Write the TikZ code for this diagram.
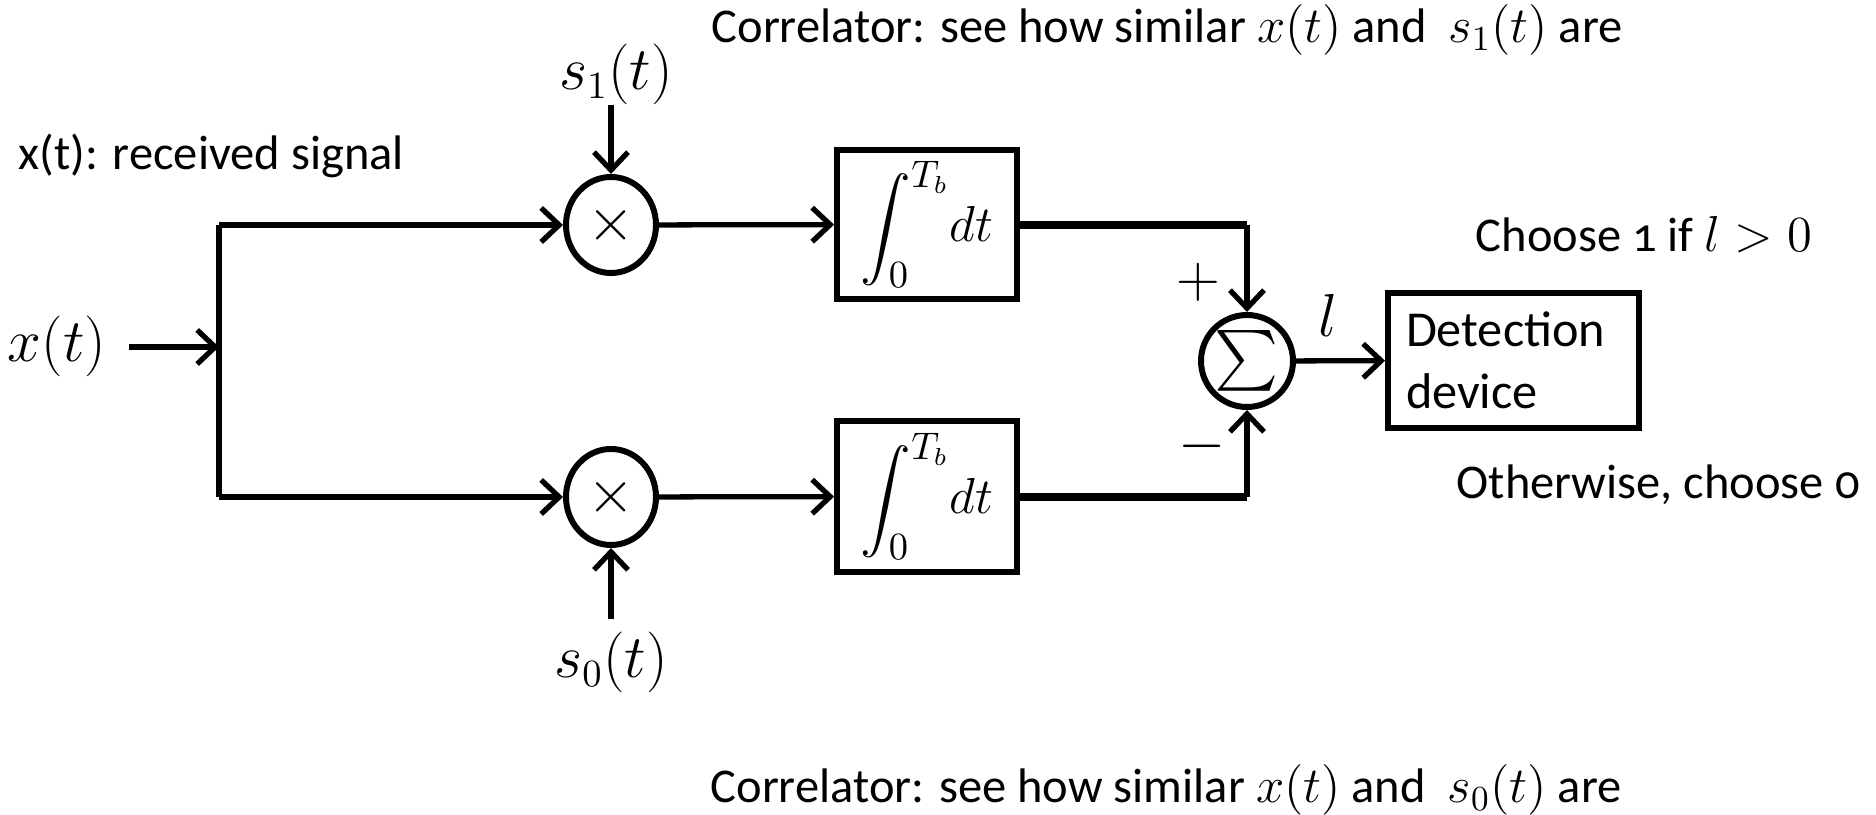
\documentclass[tikz,border=0pt]{standalone}
\usepackage{exscale}
\usepackage{fontspec}
\setmainfont{Carlito}
\usetikzlibrary{arrows.meta,shapes.geometric}
\tikzset{
  wire/.style={line width=1.5pt,-{Straight Barb[length=1.8mm,width=3.4mm,line width=1.5pt]}},
  thickwire/.style={line width=2.4pt},
  mixer/.style={draw,ellipse,line width=1.7pt,minimum width=0.90cm,minimum height=0.96cm,inner sep=0pt},
  adder/.style={draw,circle,line width=1.7pt,minimum size=0.92cm,inner sep=0pt},
  block/.style={draw,rectangle,line width=1.7pt,inner sep=2pt},
  txt/.style={font=\fontsize{13.8}{16}\selectfont,inner sep=0pt},
  mathlbl/.style={font=\fontsize{16}{18}\selectfont}
}
\begin{document}
\begin{tikzpicture}[txt]
\useasboundingbox (0,0) rectangle (18.76,-8.15);
% input and splitting bus
\node[mathlbl] (xin) at (0.57,-3.46) {$x(t)$};
\coordinate (xs) at (1.29,-3.47);
\coordinate (split) at (2.19,-3.47);
\coordinate (bustop) at (2.19,-2.25);
\coordinate (busbot) at (2.19,-4.97);
\node[anchor=west] (rx) at (0.18,-1.56) {x(t): received signal};
% multipliers
\node[mixer,font=\fontsize{17}{18}\selectfont] (mul1) at (6.11,-2.25) {$\times$};
\node[mixer,font=\fontsize{17}{18}\selectfont] (mul0) at (6.11,-4.97) {$\times$};
\node[mathlbl] (s1) at (6.16,-0.74) {$s_1(t)$};
\coordinate (s1a) at (6.11,-1.05);
\node[mathlbl] (s0) at (6.11,-6.62) {$s_0(t)$};
\coordinate (s0a) at (6.11,-6.19);
% integrators
\node[block,minimum width=1.80cm,minimum height=1.49cm,font=\fontsize{15}{18}\selectfont]
  (int1) at (9.27,-2.245) {$\displaystyle\int_0^{T_b}\!dt$};
\node[block,minimum width=1.80cm,minimum height=1.51cm,font=\fontsize{15}{18}\selectfont]
  (int0) at (9.27,-4.965) {$\displaystyle\int_0^{T_b}\!dt$};
% summer and detector
\node[adder,font=\fontsize{16}{18}\selectfont] (sum) at (12.47,-3.61) {$\sum$};
\node[block,minimum width=2.51cm,minimum height=1.35cm,align=left,
  text width=2.15cm,font=\fontsize{14.3}{17.5}\selectfont] (det) at (15.135,-3.605) {Detection\\device};
\node[mathlbl] (plus) at (11.98,-2.82) {$+$};
\node[mathlbl] (minus) at (12.02,-4.46) {$-$};
\node[mathlbl] (ell) at (13.28,-3.15) {$l$};
% decision rule
\node[anchor=west] (rule1) at (14.75,-2.35)
  {Choose {\addfontfeatures{Numbers=OldStyle}1} if $l>0$};
\node[anchor=west] (rule0) at (14.56,-4.85)
  {Otherwise, choose {\addfontfeatures{Numbers=OldStyle}0}};
% captions
\node (cap1) at (11.67,-0.30) {Correlator: see how similar $x(t)$ and\ \ $s_1(t)$ are};
\node (cap0) at (11.66,-7.90) {Correlator: see how similar $x(t)$ and\ \ $s_0(t)$ are};
% connectors
\draw[wire] (xs) -- (split);
\draw[line width=1.9pt] (bustop) -- (busbot);
\draw[wire] (bustop) -- (mul1);
\draw[wire] (busbot) -- (mul0);
\draw[wire] (s1a) -- (mul1);
\draw[wire] (s0a) -- (mul0);
\draw[wire] (mul1) -- (int1);
\draw[wire] (mul0) -- (int0);
\draw[thickwire] (int1.east |- mul1) -- (sum.center |- mul1);
\draw[thickwire] (int0.east |- mul0) -- (sum.center |- mul0);
\draw[wire] (sum.center |- mul1) -- (sum.north);
\draw[wire] (sum.center |- mul0) -- (sum.south);
\draw[wire] (sum) -- (det);
\end{tikzpicture}
\end{document}
